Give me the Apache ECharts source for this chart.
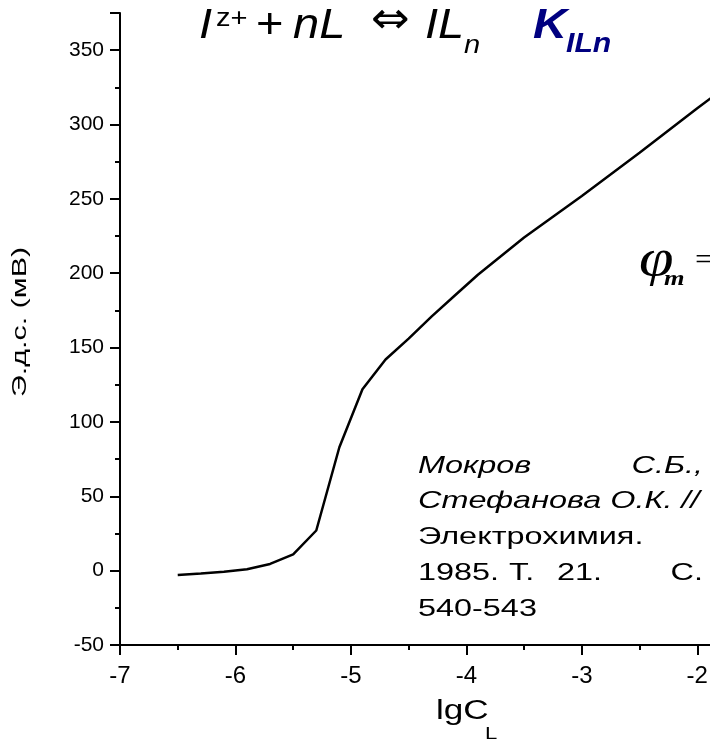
<!DOCTYPE html>
<html>
<head>
<meta charset="utf-8">
<script src="https://cdn.jsdelivr.net/npm/echarts@6/dist/echarts.min.js"></script>
<style>
html,body{margin:0;padding:0;background:#fff;}
#chart1{width:710px;height:754px;}
</style>
</head>
<body>
<div id="chart1"></div>
<script>
// данные кривой э.д.с.
var lgC = [-6.5, -6.3, -6.1, -5.9, -5.7, -5.5, -5.3, -5.1, -4.9, -4.7, -4.5, -4.3, -4.1, -3.9, -3.5, -3, -2.5, -2, -1.6];
var emf = [-3, -2, -0.8, 1, 4.5, 11, 27, 83, 122, 142, 156, 171, 185, 199, 224, 252, 281, 311, 334];
var xTicks = [-7, -6, -5, -4, -3, -2];
var yTicks = [-50, 0, 50, 100, 150, 200, 250, 300, 350];

var FONT = '"Liberation Sans", Arial, sans-serif';
var STRETCH = 1.35;

function txt(x, y, text, size, opt){
	opt = opt || {};
	return {
		type: 'text',
		x: x, y: y,
		scaleX: opt.sx || STRETCH,
		rotation: opt.rot || 0,
		z: 10,
		style: {
			text: text,
			fontFamily: opt.family || FONT,
			fontSize: size,
			fontStyle: opt.italic ? 'italic' : 'normal',
			fontWeight: opt.bold ? 'bold' : 'normal',
			fill: opt.color || '#000',
			textAlign: opt.align || 'left',
			textVerticalAlign: opt.va || 'bottom'
		}
	};
}

var myChart = {
	init:function(){
		var pts = lgC.map(function(v, i){ return [v, emf[i]]; });
		var option = {
			animation: false,
			grid: {left: 120, top: 13, width: 635, height: 632, outerBoundsMode: 'none', containLabel: false},
			xAxis: {
				type: 'value',
				min: -7, max: -1.5, interval: 1,
				splitLine: {show: false},
				axisLine: {onZero: false, lineStyle: {color: '#000', width: 2}},
				axisTick: {length: 10, lineStyle: {color: '#000', width: 2}},
				minorTick: {show: true, splitNumber: 2, length: 5, lineStyle: {color: '#000', width: 2}},
				axisLabel: {
					color: '#000', fontSize: 24, fontFamily: FONT, margin: 19,
					formatter: function(v){ return xTicks.indexOf(v) >= 0 ? String(v) : ''; }
				}
			},
			yAxis: {
				type: 'value',
				min: -50, max: 375, interval: 50,
				splitLine: {show: false},
				axisLine: {show: true, onZero: false, lineStyle: {color: '#000', width: 2}},
				axisTick: {show: true, length: 10, lineStyle: {color: '#000', width: 2}},
				minorTick: {show: true, splitNumber: 2, length: 5, lineStyle: {color: '#000', width: 2}},
				axisLabel: {
					color: '#000', fontSize: 21, fontFamily: FONT, margin: 16,
					formatter: function(v){ return yTicks.indexOf(v) >= 0 ? String(v) : ''; }
				}
			},
			series: [{
				type: 'line',
				data: pts,
				showSymbol: false,
				smooth: false,
				lineStyle: {color: '#000', width: 2.5}
			}],
			graphic: [
				// заголовок
				txt(199, 47, 'I', 42, {italic: true, sx: 1.12}),
				txt(216, 32, 'z+', 26, {sx: 1.12}),
				txt(256, 47, '+', 42, {sx: 1.12}),
				txt(293, 47, 'nL', 42, {italic: true, sx: 1.12}),
				txt(371, 44, '⇔', 44, {family: '"DejaVu Sans", sans-serif', sx: 1.05}),
				txt(425, 47, 'IL', 42, {italic: true, sx: 1.12}),
				txt(464, 59, 'n', 26, {italic: true, sx: 1.12}),
				txt(533, 47, 'K', 42, {italic: true, bold: true, color: '#000080', sx: 1.12}),
				txt(566, 58, 'ILn', 27, {italic: true, bold: true, color: '#000080', sx: 1.12}),
				// φm =
				txt(639, 287, 'φ', 52, {italic: true, family: '"Liberation Serif", "Times New Roman", serif', sx: 1.2}),
				txt(664, 290, 'm', 22, {italic: true, bold: true, family: '"Liberation Serif", serif', sx: 1.2}),
				txt(695, 276, '=', 30, {family: '"Liberation Serif", serif', sx: 1.1}),
				// ссылка
				txt(418, 478, 'Мокров', 24, {italic: true}),
				txt(703, 478, 'С.Б.,', 24, {italic: true, align: 'right'}),
				txt(418, 513, 'Стефанова О.К. //', 24, {italic: true}),
				txt(418, 549, 'Электрохимия.', 24, {}),
				txt(418, 585, '1985.', 24, {}),
				txt(509, 585, 'Т.', 24, {}),
				txt(557, 585, '21.', 24, {}),
				txt(703, 585, 'С.', 24, {align: 'right'}),
				txt(418, 621, '540-543', 24, {}),
				// подписи осей
				txt(436, 725, 'lgC', 27, {sx: 1.3}),
				txt(485, 743, 'L', 17, {sx: 1.3}),
				txt(20, 322, 'Э.д.с. (мВ)', 21, {rot: Math.PI / 2, sx: 1.45, align: 'center', va: 'middle'})
			]
		};
		var chart = echarts.init(document.getElementById('chart1'));
		chart.setOption(option);
		return chart;
	}
};

var chartObj = myChart.init();
</script>
</body>
</html>
